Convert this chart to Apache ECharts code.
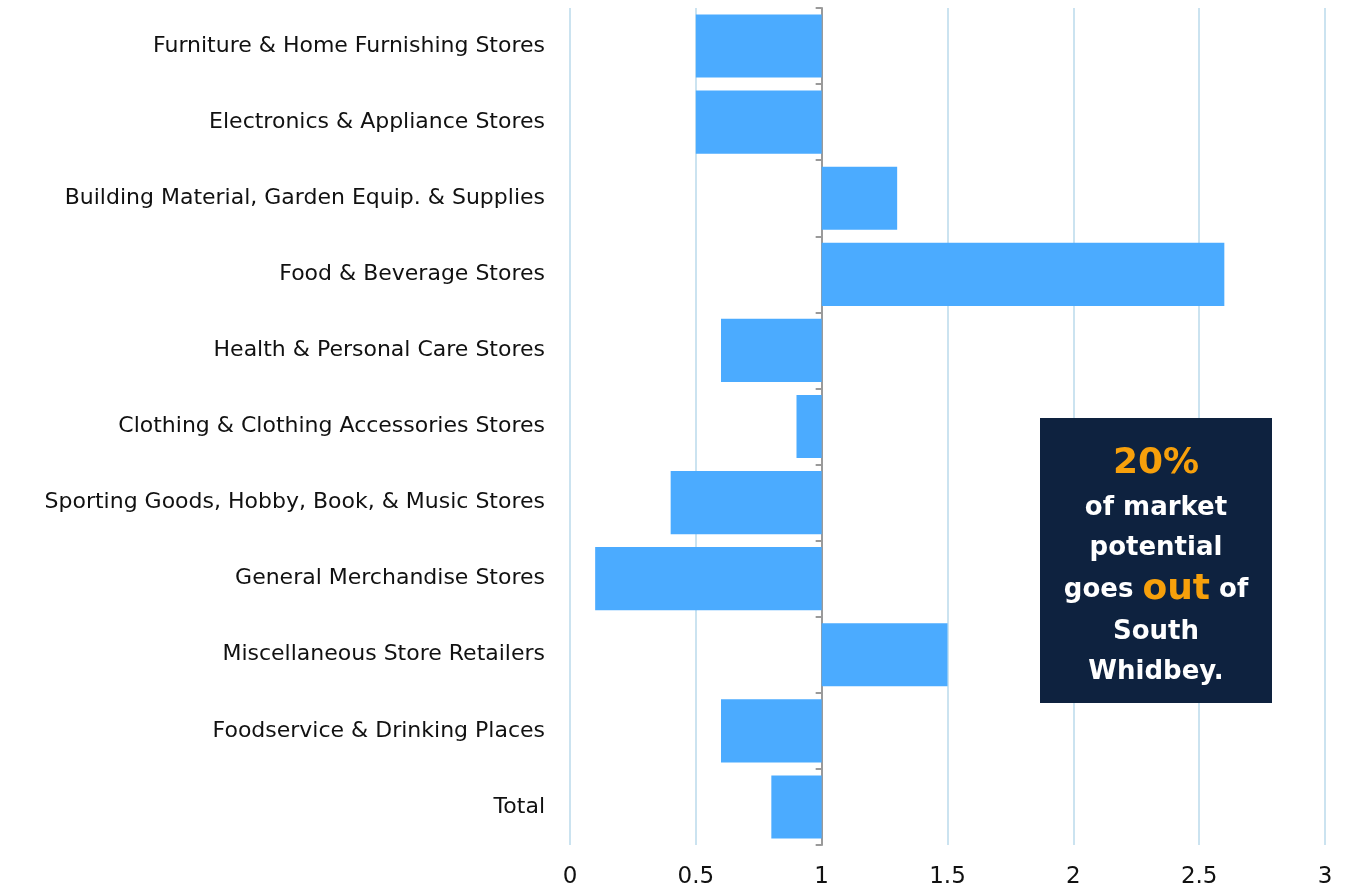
<!DOCTYPE html>
<html>
<head>
<meta charset="utf-8">
<script src="https://cdn.jsdelivr.net/npm/echarts@6/dist/echarts.min.js"></script>
<style>
    html, body { margin: 0; padding: 0; background: #fff; }
    #chart { width: 1346px; height: 891px; }
</style>
</head>
<body>
<div id="chart"></div>
<script>
    // store categories, top to bottom
    const categories = [
        'Furniture & Home Furnishing Stores',
        'Electronics & Appliance Stores',
        'Building Material, Garden Equip. & Supplies',
        'Food & Beverage Stores',
        'Health & Personal Care Stores',
        'Clothing & Clothing Accessories Stores',
        'Sporting Goods, Hobby, Book, & Music Stores',
        'General Merchandise Stores',
        'Miscellaneous Store Retailers',
        'Foodservice & Drinking Places',
        'Total'
    ];
    // leakage/surplus factor, bars grow from 1
    const values = [0.5, 0.5, 1.3, 2.6, 0.6, 0.9, 0.4, 0.1, 1.5, 0.6, 0.8];
    const baseline = 1;
    const tickLabels = ['0', '0.5', '1', '1.5', '2', '2.5', '3'];

    const font = '"DejaVu Sans", Verdana, sans-serif';
    const myCharts = echarts.init(document.getElementById('chart'));

    const option = {
        animation: false,
        textStyle: { fontFamily: font },
        grid: { left: 570, right: 21, top: 8, bottom: 46 },
        xAxis: {
            type: 'value',
            min: -1,
            max: 2,
            interval: 0.5,
            axisLine: { show: false },
            axisTick: { show: false },
            splitLine: { lineStyle: { color: '#cbe3f0', width: 2 } },
            axisLabel: {
                color: '#111',
                fontSize: 23,
                margin: 21,
                fontFamily: font,
                formatter: v => tickLabels[Math.round((v + baseline) * 2)]
            }
        },
        yAxis: [
            {
                // axis line at value 1 with boundary ticks
                type: 'category',
                data: categories,
                inverse: true,
                axisLine: { onZero: true, lineStyle: { color: '#9a9a9a', width: 2 } },
                axisTick: { show: true, length: 6, lineStyle: { color: '#9a9a9a', width: 2 } },
                axisLabel: { show: false },
                splitLine: { show: false }
            },
            {
                // category names at left edge
                type: 'category',
                data: categories,
                inverse: true,
                position: 'left',
                axisLine: { show: false, onZero: false },
                axisTick: { show: false },
                axisLabel: { color: '#111', fontSize: 22, margin: 25, fontFamily: font },
                splitLine: { show: false }
            }
        ],
        series: [
            {
                type: 'bar',
                yAxisIndex: 0,
                data: values.map(v => +(v - baseline).toFixed(2)),
                barCategoryGap: '17%',
                itemStyle: { color: '#4babff' }
            }
        ],
        graphic: [
            {
                type: 'group',
                left: 1040,
                top: 418,
                z: 100,
                children: [
                    {
                        type: 'rect',
                        z: 100,
                        shape: { x: 0, y: 0, width: 232, height: 285 },
                        style: { fill: '#0e223f' }
                    },
                    {
                        type: 'text',
                        z: 101,
                        x: 116,
                        y: 22,
                        style: {
                            text: '{big|20%}\n{w|of market}\n{w|potential}\n{w|goes }{o|out}{w| of}\n{w|South}\n{w|Whidbey.}',
                            align: 'center',
                            verticalAlign: 'top',
                            fontFamily: font,
                            rich: {
                                big: { fontSize: 36, fontWeight: 'bold', fill: '#f7a00b', lineHeight: 48, fontFamily: font },
                                w: { fontSize: 26, fontWeight: 'bold', fill: '#fff', lineHeight: 40, fontFamily: font },
                                o: { fontSize: 36, fontWeight: 'bold', fill: '#f7a00b', lineHeight: 44, fontFamily: font }
                            }
                        }
                    }
                ]
            }
        ]
    };

    myCharts.setOption(option);
    window.addEventListener('resize', () => myCharts.resize());
</script>
</body>
</html>
